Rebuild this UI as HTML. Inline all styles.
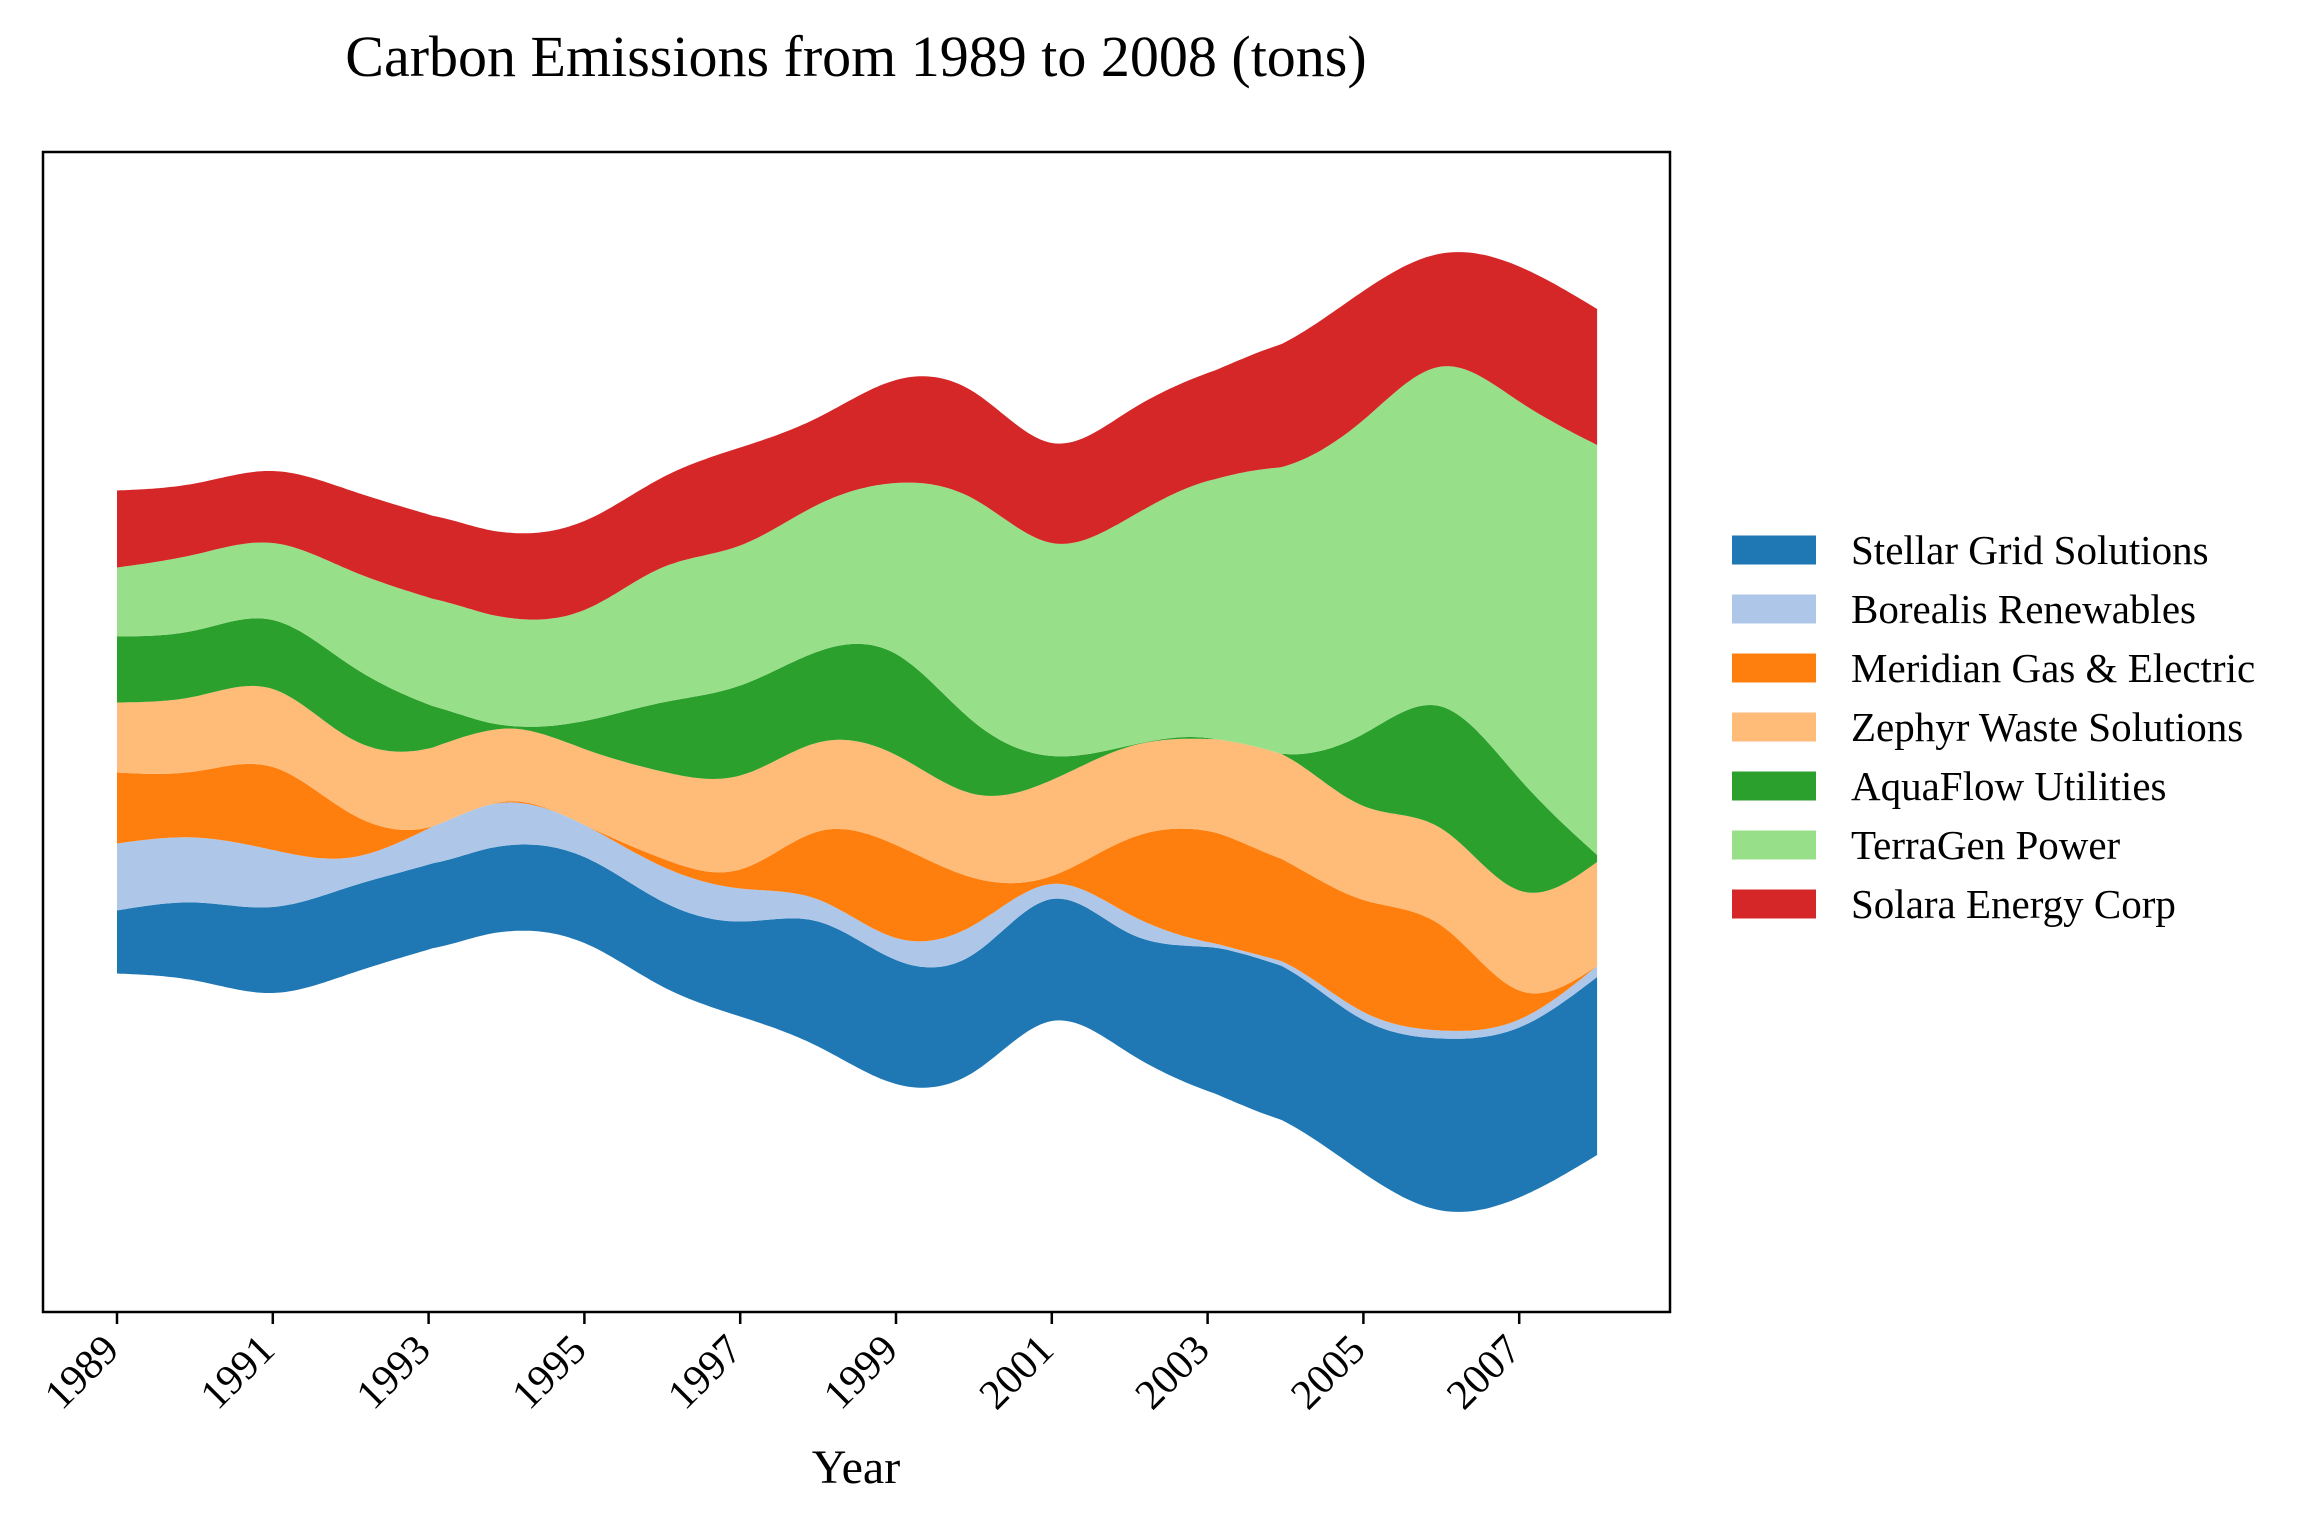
<!DOCTYPE html>
<html><head><meta charset="utf-8">
<style>
html,body{margin:0;padding:0;background:#fff;}
svg{display:block;font-family:"Liberation Serif","DejaVu Serif",serif;}
</style></head>
<body>
<svg id="chart" width="2305" height="1516" viewBox="0 0 2305 1516" xmlns="http://www.w3.org/2000/svg">
<rect x="0" y="0" width="2305" height="1516" fill="#fff"/>
<text x="856" y="76" font-size="58" text-anchor="middle">Carbon Emissions from 1989 to 2008 (tons)</text>
<g id="areas"></g>
<rect x="43" y="152" width="1627" height="1160" fill="none" stroke="#000" stroke-width="2.5"/>
<g id="xticks"></g>
<text x="856" y="1483" font-size="48" text-anchor="middle">Year</text>
<g id="legend"></g>
</svg>
<script>
const years = [1989,1990,1991,1992,1993,1994,1995,1996,1997,1998,1999,2000,2001,2002,2003,2004,2005,2006,2007,2008];
const seriesNames = ["Stellar Grid Solutions","Borealis Renewables","Meridian Gas & Electric","Zephyr Waste Solutions","AquaFlow Utilities","TerraGen Power","Solara Energy Corp"];
const seriesColors = ["#1f77b4","#aec7e8","#ff7f0e","#ffbb78","#2ca02c","#98df8a","#d62728"];
const stellar = [63,78,86,87,85,86,86,85,95,125,124,118,122,120,144,154,153,172,170,178];
const borealis = [67,65,57,29,36,43,32,35,33,22,22,29,15,19,5,5,8,8,8,11];
const meridian = [71,66,83,44,1,1,0,8,19,68,93,47,8,76,111,102,112,105,29,0];
const zephyr = [70,75,78,75,79,73,76,87,94,89,90,84,96,92,92,105,94,97,100,104];
const aquaflow = [66,66,69,73,44,3,28,69,90,91,101,72,24,1,1,2,72,122,112,7];
const terragen = [69,76,77,95,107,108,111,135,140,147,171,223,213,228,257,288,314,340,377,410];
const solara = [77,71,72,80,83,85,89,90,98,87,103,107,100,107,108,124,129,113,135,136];
const tickYears = [1989,1991,1993,1995,1997,1999,2001,2003,2005,2007];

const series = [stellar,borealis,meridian,zephyr,aquaflow,terragen,solara];
const NS = "http://www.w3.org/2000/svg";
function xScale(yr){ return 117 + (yr-1989)*77.9; }
function yScale(v){ return 732 - v; }

function spline(xs, ys){
  const n = xs.length, h=[], al=[0], l=[1], mu=[0], z=[0], c=new Array(n).fill(0), b=[], d=[];
  for(let i=0;i<n-1;i++) h.push(xs[i+1]-xs[i]);
  for(let i=1;i<n-1;i++) al.push(3/h[i]*(ys[i+1]-ys[i]) - 3/h[i-1]*(ys[i]-ys[i-1]));
  for(let i=1;i<n-1;i++){ l[i]=2*(xs[i+1]-xs[i-1])-h[i-1]*mu[i-1]; mu[i]=h[i]/l[i]; z[i]=(al[i]-h[i-1]*z[i-1])/l[i]; }
  l[n-1]=1; z[n-1]=0;
  for(let j=n-2;j>=0;j--){ c[j]=z[j]-mu[j]*c[j+1]; b[j]=(ys[j+1]-ys[j])/h[j]-h[j]*(c[j+1]+2*c[j])/3; d[j]=(c[j+1]-c[j])/(3*h[j]); }
  return function(x){
    let i=Math.min(n-2, Math.max(0, Math.floor(x-xs[0])));
    const dx=x-xs[i];
    return ys[i]+b[i]*dx+c[i]*dx*dx+d[i]*dx*dx*dx;
  };
}

const fine=[];
for(let t=years[0]; t<=years[years.length-1]+1e-9; t+=0.05) fine.push(t);
const fns = series.map(s=>spline(years,s));
const vals = fns.map(f=>fine.map(t=>Math.max(0,f(t))));
const base = fine.map((t,i)=>-0.5*vals.reduce((a,v)=>a+v[i],0));

const areas = document.getElementById('areas');
let lower = base.slice();
series.forEach((s,k)=>{
  const upper = lower.map((v,i)=>v+vals[k][i]);
  let d = "M"+fine.map((t,i)=>xScale(t).toFixed(1)+","+yScale(upper[i]).toFixed(1)).join("L");
  for(let i=fine.length-1;i>=0;i--) d += "L"+xScale(fine[i]).toFixed(1)+","+yScale(lower[i]).toFixed(1);
  d += "Z";
  const p = document.createElementNS(NS,'path');
  p.setAttribute('d',d);
  p.setAttribute('fill',seriesColors[k]);
  
  
  areas.appendChild(p);
  lower = upper;
});

const xt = document.getElementById('xticks');
tickYears.forEach(yr=>{
  const x = xScale(yr);
  const ln = document.createElementNS(NS,'line');
  ln.setAttribute('x1',x); ln.setAttribute('x2',x); ln.setAttribute('y1',1312); ln.setAttribute('y2',1324);
  ln.setAttribute('stroke','#000'); ln.setAttribute('stroke-width','2.5');
  
  
  xt.appendChild(ln);
  const tx = document.createElementNS(NS,'text');
  tx.setAttribute('x',x+4); tx.setAttribute('y',1352);
  tx.setAttribute('font-size','42');
  tx.setAttribute('text-anchor','end');
  tx.setAttribute('transform','rotate(-45 '+(x+4)+' 1352)');
  tx.textContent = yr;
  
  
  xt.appendChild(tx);
});

const lg = document.getElementById('legend');
seriesNames.forEach((nm,k)=>{
  const cy = 550 + k*59;
  const r = document.createElementNS(NS,'rect');
  r.setAttribute('x',1732); r.setAttribute('y',cy-14.5); r.setAttribute('width',84); r.setAttribute('height',29);
  r.setAttribute('fill',seriesColors[k]);
  
  
  lg.appendChild(r);
  const t = document.createElementNS(NS,'text');
  t.setAttribute('x',1851); t.setAttribute('y',cy+14);
  t.setAttribute('font-size','41');
  t.textContent = nm;
  
  
  lg.appendChild(t);
});
</script>
</body></html>
